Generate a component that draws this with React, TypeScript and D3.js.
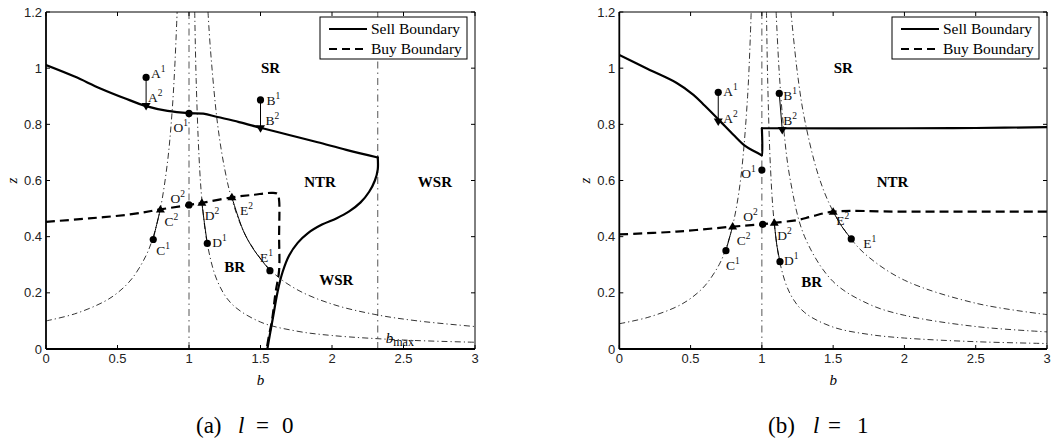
import React from "react";
import * as d3 from "d3";

type P = [number, number];

const xTicks = [0, 0.5, 1, 1.5, 2, 2.5, 3];
const yTicks = [0, 0.2, 0.4, 0.6, 0.8, 1, 1.2];
const xTickLabels = ["0", "0.5", "1", "1.5", "2", "2.5", "3"];
const yTickLabels = ["0", "0.2", "0.4", "0.6", "0.8", "1", "1.2"];

// ---------- Panel (a) l = 0 ----------
const sellAUpper: P[] = [
  [0, 1.011], [0.2, 0.97], [0.38, 0.928], [0.55, 0.893], [0.7, 0.865], [0.85, 0.848],
  [1.0, 0.84], [1.1, 0.838], [1.2, 0.826], [1.35, 0.808], [1.5, 0.788], [1.7, 0.762],
  [1.9, 0.736], [2.1, 0.709], [2.32, 0.682],
];
const sellALower: P[] = [
  [2.32, 0.682], [2.32, 0.64], [2.3, 0.6], [2.26, 0.56],
  [2.2, 0.522], [2.12, 0.49], [2.03, 0.465], [1.93, 0.443], [1.83, 0.412], [1.76, 0.378],
  [1.7, 0.333], [1.655, 0.275], [1.62, 0.205], [1.59, 0.12], [1.565, 0.05], [1.548, 0],
];
const buyA: P[] = [
  [0, 0.453], [0.3, 0.465], [0.6, 0.48], [0.8, 0.497], [1.0, 0.513], [1.1, 0.521],
  [1.3, 0.54], [1.45, 0.549], [1.58, 0.556], [1.62, 0.552], [1.63, 0.53], [1.63, 0.4],
  [1.63, 0.28], [1.605, 0.2], [1.58, 0.1], [1.56, 0.05], [1.543, 0],
];
const levelA1: P[] = [
  [0, 0.1], [0.2, 0.125], [0.4, 0.167], [0.5, 0.2], [0.6, 0.25], [0.7, 0.333],
  [0.75, 0.4], [0.8, 0.5], [0.85, 0.667], [0.88, 0.833], [0.9, 1.0], [0.917, 1.2],
];
const levelA2: P[] = [
  [1.04, 1.2], [1.05, 0.96], [1.07, 0.686], [1.09, 0.533], [1.13, 0.369], [1.2, 0.24],
  [1.3, 0.16], [1.5, 0.096], [1.75, 0.064], [2.0, 0.048], [2.5, 0.032], [3.0, 0.024],
];
const levelA3: P[] = [
  [1.133, 1.2], [1.15, 1.067], [1.2, 0.8], [1.25, 0.64], [1.3, 0.533], [1.4, 0.4],
  [1.57, 0.281], [1.75, 0.213], [2.0, 0.16], [2.3, 0.123], [2.6, 0.1], [3.0, 0.08],
];
const moveA: P[][] = [
  [[0.70, 0.967], [0.70, 0.865]],
  [[1.50, 0.887], [1.50, 0.786]],
  [[0.75, 0.39], [0.77, 0.435], [0.80, 0.497]],
  [[1.128, 0.376], [1.11, 0.44], [1.09, 0.52]],
  [[1.566, 0.279], [1.45, 0.356], [1.38, 0.421], [1.30, 0.54]],
];
const pointsA = [
  { id: "A", sup: "1", b: 0.70, z: 0.967, shape: "dot" },
  { id: "A", sup: "2", b: 0.70, z: 0.865, shape: "down" },
  { id: "O", sup: "1", b: 1.0, z: 0.839, shape: "dot" },
  { id: "B", sup: "1", b: 1.50, z: 0.887, shape: "dot" },
  { id: "B", sup: "2", b: 1.50, z: 0.786, shape: "down" },
  { id: "O", sup: "2", b: 1.0, z: 0.513, shape: "dot" },
  { id: "C", sup: "1", b: 0.75, z: 0.39, shape: "dot" },
  { id: "C", sup: "2", b: 0.80, z: 0.497, shape: "up" },
  { id: "D", sup: "1", b: 1.128, z: 0.376, shape: "dot" },
  { id: "D", sup: "2", b: 1.09, z: 0.521, shape: "up" },
  { id: "E", sup: "1", b: 1.566, z: 0.279, shape: "dot" },
  { id: "E", sup: "2", b: 1.30, z: 0.54, shape: "up" },
];
const regionsA = [
  { text: "SR", b: 1.57, z: 1.0 },
  { text: "NTR", b: 1.916, z: 0.596 },
  { text: "WSR", b: 2.72, z: 0.596 },
  { text: "BR", b: 1.32, z: 0.293 },
  { text: "WSR", b: 2.03, z: 0.246 },
];
const bMaxA = 2.32;

// ---------- Panel (b) l = 1 ----------
const sellBLeft: P[] = [
  [0, 1.047], [0.2, 0.997], [0.4, 0.948], [0.52, 0.905], [0.6, 0.866], [0.7, 0.815],
  [0.8, 0.763], [0.88, 0.724], [0.95, 0.703], [0.998, 0.69],
];
const sellBJump: P[] = [[0.998, 0.69], [1.0, 0.69], [1.0, 0.786]];
const sellBRight: P[] = [[1.0, 0.786], [2.0, 0.786], [2.5, 0.787], [3.0, 0.79]];
const buyB: P[] = [
  [0, 0.408], [0.4, 0.418], [0.8, 0.436], [1.0, 0.444], [1.1, 0.45], [1.25, 0.459],
  [1.35, 0.472], [1.5, 0.489], [2.0, 0.489], [3.0, 0.489],
];
const levelB1: P[] = [
  [0, 0.09], [0.2, 0.1125], [0.4, 0.15], [0.5, 0.18], [0.6, 0.225], [0.7, 0.3],
  [0.75, 0.36], [0.8, 0.45], [0.85, 0.6], [0.9, 0.9], [0.925, 1.2],
];
const levelB2: P[] = [
  [1.0325, 1.2], [1.04, 0.975], [1.06, 0.65], [1.087, 0.448], [1.13, 0.3], [1.2, 0.195],
  [1.3, 0.13], [1.5, 0.078], [1.75, 0.052], [2.0, 0.039], [2.5, 0.026], [3.0, 0.0195],
];
const levelB3: P[] = [
  [1.1, 1.2], [1.12, 1.0], [1.15, 0.8], [1.2, 0.6], [1.3, 0.4], [1.5, 0.24],
  [1.75, 0.16], [2.0, 0.12], [2.5, 0.08], [3.0, 0.061],
];
const levelB4: P[] = [
  [1.204, 1.2], [1.25, 0.98], [1.3, 0.817], [1.4, 0.6125], [1.5, 0.49], [1.63, 0.389],
  [1.75, 0.327], [2.0, 0.245], [2.5, 0.163], [3.0, 0.1225],
];
const moveB: P[][] = [
  [[0.694, 0.914], [0.694, 0.81]],
  [[1.122, 0.91], [1.143, 0.78]],
  [[0.748, 0.35], [0.775, 0.40], [0.795, 0.436]],
  [[1.127, 0.311], [1.105, 0.37], [1.087, 0.45]],
  [[1.627, 0.392], [1.56, 0.437], [1.50, 0.489]],
];
const pointsB = [
  { id: "A", sup: "1", b: 0.694, z: 0.914, shape: "dot" },
  { id: "A", sup: "2", b: 0.694, z: 0.81, shape: "down" },
  { id: "O", sup: "1", b: 1.0, z: 0.637, shape: "dot" },
  { id: "B", sup: "1", b: 1.122, z: 0.91, shape: "dot" },
  { id: "B", sup: "2", b: 1.143, z: 0.78, shape: "down" },
  { id: "O", sup: "2", b: 1.006, z: 0.444, shape: "dot" },
  { id: "C", sup: "1", b: 0.748, z: 0.35, shape: "dot" },
  { id: "C", sup: "2", b: 0.795, z: 0.436, shape: "up" },
  { id: "D", sup: "1", b: 1.127, z: 0.311, shape: "dot" },
  { id: "D", sup: "2", b: 1.087, z: 0.45, shape: "up" },
  { id: "E", sup: "1", b: 1.627, z: 0.392, shape: "dot" },
  { id: "E", sup: "2", b: 1.50, z: 0.489, shape: "up" },
];
const regionsB = [
  { text: "SR", b: 1.571, z: 1.0 },
  { text: "NTR", b: 1.917, z: 0.596 },
  { text: "BR", b: 1.349, z: 0.24 },
];

// label placement (pixel offsets from marker): [dx, dy, anchor]
const labelOffA: Record<string, [number, number, string]> = {
  A1: [5, 1, "start"], A2: [2, -4, "start"], O1: [-1, 19, "end"], B1: [6, 5, "start"],
  B2: [5, -3, "start"], O2: [-4, -2, "end"], C1: [3, 16, "start"], C2: [4, 17, "start"],
  D1: [5, 4, "start"], D2: [3, 17, "start"], E1: [-10, -9, "start"], E2: [8, 18, "start"],
};
const labelOffB: Record<string, [number, number, string]> = {
  A1: [5, 4, "start"], A2: [5, 1, "start"], O1: [-6, 8, "end"], B1: [4, 7, "start"],
  B2: [1, -5, "start"], O2: [-5, -3, "end"], C1: [0, 19, "start"], C2: [4, 18, "start"],
  D1: [4, 3, "start"], D2: [3, 17, "start"], E1: [12, 9, "start"], E2: [3, 13, "start"],
};

const SERIF = "'Liberation Serif', 'Times New Roman', serif";
const SANS = "'Liberation Sans', Arial, Helvetica, sans-serif";

function Panel(props: {
  id: string;
  left: number;
  right: number;
  sell: P[][];
  buy: P[];
  levels: P[][];
  moves: P[][];
  points: { id: string; sup: string; b: number; z: number; shape: string }[];
  regions: { text: string; b: number; z: number }[];
  offsets: Record<string, [number, number, string]>;
  bMax?: number;
  caption: string;
  captionValue: string;
  captionX: number[];
}) {
  const top = 12, bottom = 349;
  const x = d3.scaleLinear().domain([0, 3]).range([props.left, props.right]);
  const y = d3.scaleLinear().domain([0, 1.2]).range([bottom, top]);
  const smooth = d3.line<P>().x((d) => x(d[0])).y((d) => y(d[1])).curve(d3.curveCatmullRom.alpha(0.5));
  const clipId = "clip-" + props.id;
  const tick = 4;
  const legX = props.right - 155;
  const legY = top + 5;
  const dashDot = "6,3,1.2,3";
  return (
    <g>
      <defs>
        <clipPath id={clipId}>
          <rect x={props.left} y={top} width={props.right - props.left} height={bottom - top} />
        </clipPath>
      </defs>
      <g clipPath={`url(#${clipId})`}>
        <line x1={x(1)} x2={x(1)} y1={y(0)} y2={y(1.2)} stroke="#555" strokeWidth={1} strokeDasharray="7,4,1.5,4" />
        {props.bMax !== undefined && (
          <line x1={x(props.bMax)} x2={x(props.bMax)} y1={y(0)} y2={y(1.2)} stroke="#555" strokeWidth={1} strokeDasharray="7,4,1.5,4" />
        )}
        {props.levels.map((lv, i) => (
          <path key={i} d={smooth(lv) || ""} fill="none" stroke="#000" strokeWidth={0.8} strokeDasharray={dashDot} />
        ))}
        {props.moves.map((mv, i) => (
          <path key={i} d={smooth(mv) || ""} fill="none" stroke="#000" strokeWidth={1} />
        ))}
        {props.sell.map((seg, i) => (
          <path key={i} d={smooth(seg) || ""} fill="none" stroke="#000" strokeWidth={2.2} strokeLinejoin="round" strokeLinecap="round" />
        ))}
        <path d={smooth(props.buy) || ""} fill="none" stroke="#000" strokeWidth={2.2} strokeDasharray="9,5" />
      </g>
      {props.bMax !== undefined && (
        <text x={x(props.bMax) + 8} y={bottom - 6} fontFamily={SERIF} fontStyle="italic" fontSize={15}>
          b<tspan fontStyle="normal" fontSize={12} dy={3}>max</tspan>
        </text>
      )}
      {props.points.map((p, i) => {
        const cx = x(p.b), cy = y(p.z);
        let mark;
        if (p.shape === "dot") mark = <circle cx={cx} cy={cy} r={3.6} fill="#000" />;
        else if (p.shape === "down")
          mark = <path d={`M${cx - 4.5},${cy - 3} L${cx + 4.5},${cy - 3} L${cx},${cy + 4.5} Z`} fill="#000" />;
        else mark = <path d={`M${cx - 4.5},${cy + 3} L${cx + 4.5},${cy + 3} L${cx},${cy - 4.5} Z`} fill="#000" />;
        const off = props.offsets[p.id + p.sup];
        return (
          <g key={i}>
            {mark}
            <text x={cx + off[0]} y={cy + off[1]} textAnchor={off[2]} fontFamily={SERIF} fontSize={13.5} fill="#111">
              {p.id}
              <tspan fontSize={9.5} dy={-6}>{p.sup}</tspan>
            </text>
          </g>
        );
      })}
      {props.regions.map((r, i) => (
        <text key={i} x={x(r.b)} y={y(r.z) + 5} textAnchor="middle" fontFamily={SERIF} fontWeight="bold" fontSize={15}>
          {r.text}
        </text>
      ))}
      <line x1={props.left} x2={props.right} y1={top} y2={top} stroke="#000" strokeWidth={1} />
      <line x1={props.right} x2={props.right} y1={top} y2={bottom} stroke="#000" strokeWidth={1} />
      <line x1={props.left} x2={props.right} y1={bottom} y2={bottom} stroke="#000" strokeWidth={1.8} />
      <line x1={props.left} x2={props.left} y1={top} y2={bottom} stroke="#000" strokeWidth={1.8} />
      {xTicks.map((t, i) => (
        <g key={"x" + i}>
          <line x1={x(t)} x2={x(t)} y1={bottom} y2={bottom - tick} stroke="#000" strokeWidth={1} />
          <line x1={x(t)} x2={x(t)} y1={top} y2={top + tick} stroke="#000" strokeWidth={1} />
          <text x={x(t)} y={bottom + 14} textAnchor="middle" fontFamily={SANS} fontSize={13} fill="#222">
            {xTickLabels[i]}
          </text>
        </g>
      ))}
      {yTicks.map((t, i) => (
        <g key={"y" + i}>
          <line x1={props.left} x2={props.left + tick} y1={y(t)} y2={y(t)} stroke="#000" strokeWidth={1} />
          <line x1={props.right} x2={props.right - tick} y1={y(t)} y2={y(t)} stroke="#000" strokeWidth={1} />
          <text x={props.left - 4} y={y(t) + 4.5} textAnchor="end" fontFamily={SANS} fontSize={13} fill="#222">
            {yTickLabels[i]}
          </text>
        </g>
      ))}
      <text x={(props.left + props.right) / 2} y={385} textAnchor="middle" fontFamily={SERIF} fontStyle="italic" fontSize={15}>
        b
      </text>
      <text
        transform={`translate(${props.left - 29},${(top + bottom) / 2}) rotate(-90)`}
        textAnchor="middle"
        fontFamily={SERIF}
        fontStyle="italic"
        fontSize={15}
      >
        z
      </text>
      <rect x={legX} y={legY} width={147} height={42} fill="#fff" stroke="#000" strokeWidth={1} />
      <line x1={legX + 9} x2={legX + 47} y1={legY + 12} y2={legY + 12} stroke="#000" strokeWidth={2} />
      <line x1={legX + 9} x2={legX + 47} y1={legY + 32} y2={legY + 32} stroke="#000" strokeWidth={2} strokeDasharray="8,5" />
      <text x={legX + 51} y={legY + 17} fontFamily={SERIF} fontSize={15.5}>Sell Boundary</text>
      <text x={legX + 51} y={legY + 37} fontFamily={SERIF} fontSize={15.5}>Buy Boundary</text>
      <text y={433} fontFamily={SERIF} fontSize={23}>
        <tspan x={props.captionX[0]}>{props.caption}</tspan>
        <tspan x={props.captionX[1]} fontStyle="italic">l</tspan>
        <tspan x={props.captionX[2]}>=</tspan>
        <tspan x={props.captionX[3]}>{props.captionValue}</tspan>
      </text>
    </g>
  );
}

export default function App() {
  return (
    <svg width={1051} height={444} style={{ position: "absolute", left: 0, top: 0, background: "#fff" }}>
      <rect width={1051} height={444} fill="#fff" />
      <Panel
        id="a"
        left={46}
        right={475}
        sell={[sellAUpper, sellALower]}
        buy={buyA}
        levels={[levelA1, levelA2, levelA3]}
        moves={moveA}
        points={pointsA}
        regions={regionsA}
        offsets={labelOffA}
        bMax={bMaxA}
        caption="(a)"
        captionValue="0"
        captionX={[196, 238, 256, 282]}
      />
      <Panel
        id="b"
        left={619.3}
        right={1047}
        sell={[sellBLeft, sellBJump, sellBRight]}
        buy={buyB}
        levels={[levelB1, levelB2, levelB3, levelB4]}
        moves={moveB}
        points={pointsB}
        regions={regionsB}
        offsets={labelOffB}
        caption="(b)"
        captionValue="1"
        captionX={[768, 813, 828, 857]}
      />
    </svg>
  );
}
